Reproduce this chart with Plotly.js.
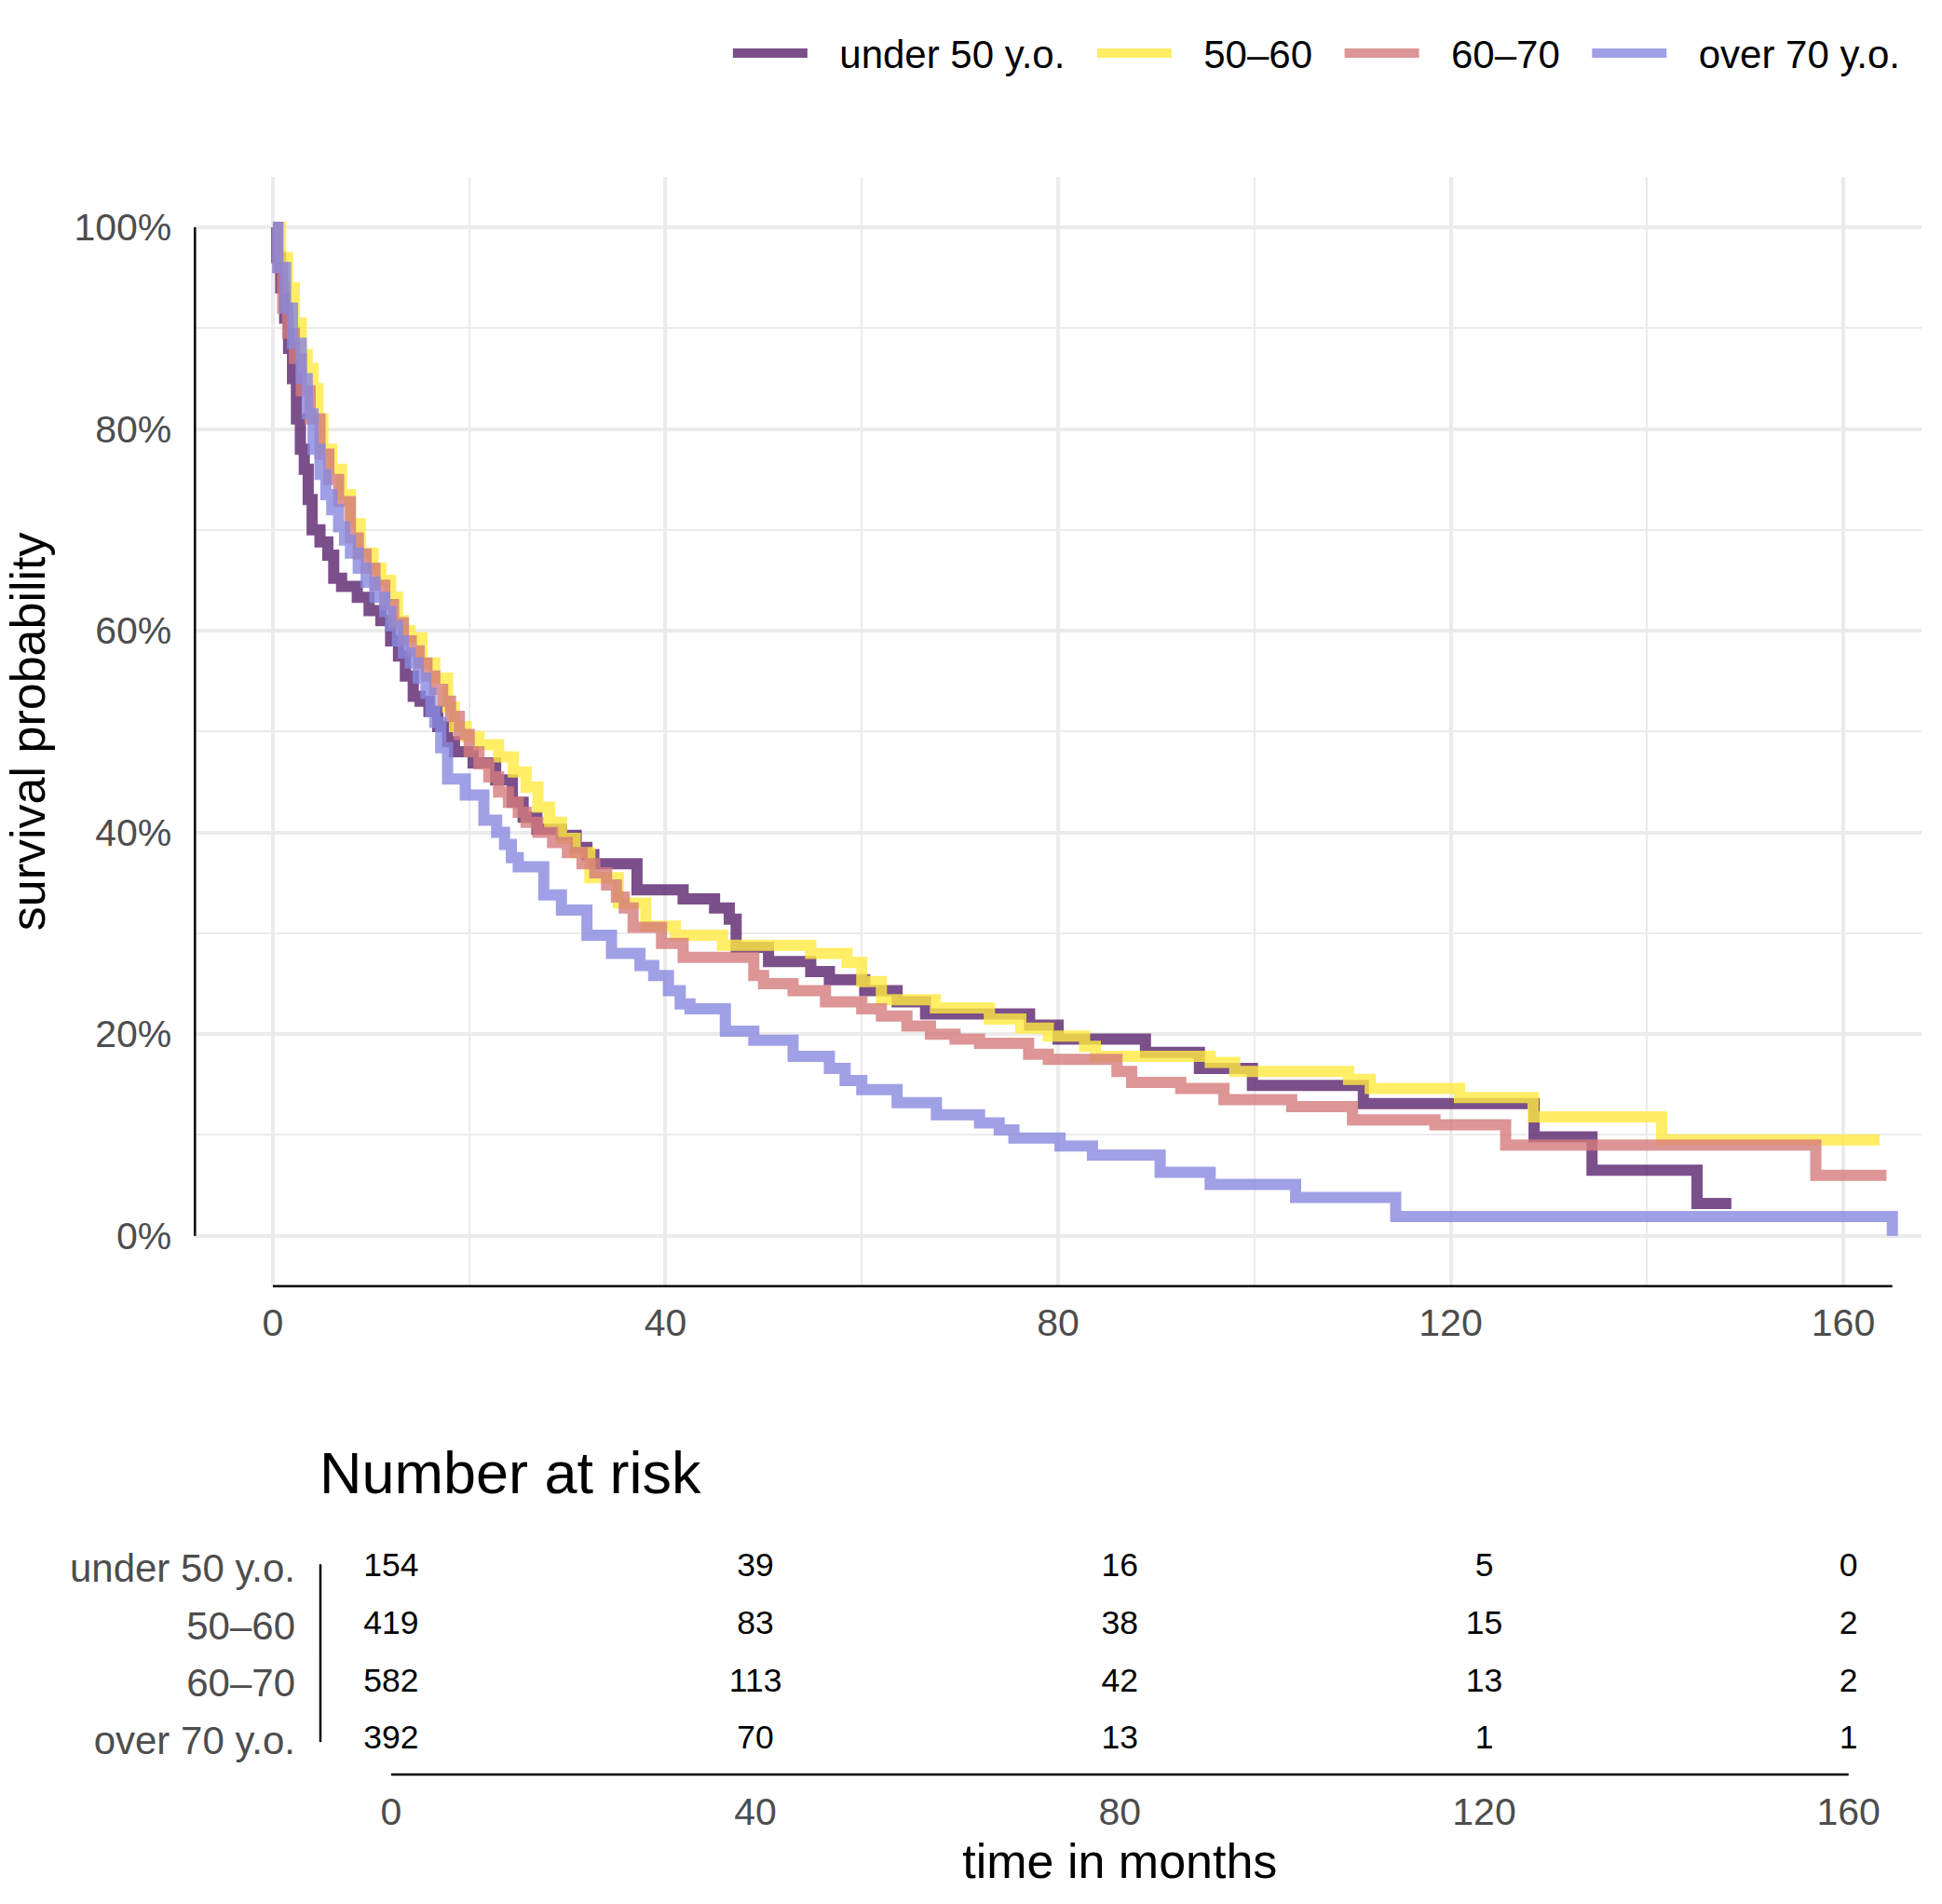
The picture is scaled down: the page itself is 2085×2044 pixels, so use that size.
<!DOCTYPE html>
<html>
<head>
<meta charset="utf-8">
<script src="https://cdn.plot.ly/plotly-3.0.1.min.js"></script>
<style>html,body{margin:0;padding:0;background:#fff;} #chart{width:2085px;height:2044px;}</style>
</head>
<body>
<div id="chart"></div>
<script>
// ---- data ----
const groupNames = ["under 50 y.o.", "50\u201360", "60\u201370", "over 70 y.o."];

const timeUnder50 = [0,0.4,0.8,1.2,1.6,2.0,2.4,2.8,3.2,3.6,4.0,4.8,5.6,6.2,7.0,8.6,9.8,11,12,12.8,13.5,14.3,15,15.9,16.8,17.8,18.5,20.4,22.7,24.4,25.5,26.9,29.4,30.9,32,32.7,37.1,41.8,45,46.5,47.2,50.5,54.8,56.7,60.3,63.6,66.5,77.1,80,88.9,94.4,99.8,111.1,128.5,134.4,145.1,148.6];
const survUnder50 = [1,0.97,0.94,0.91,0.88,0.85,0.81,0.78,0.76,0.73,0.70,0.688,0.675,0.652,0.644,0.633,0.62,0.61,0.59,0.575,0.555,0.535,0.53,0.52,0.505,0.49,0.48,0.469,0.452,0.43,0.415,0.403,0.397,0.385,0.378,0.369,0.343,0.334,0.325,0.314,0.286,0.272,0.262,0.254,0.243,0.232,0.22,0.209,0.195,0.182,0.166,0.149,0.131,0.098,0.065,0.032,0.032];

const time5060 = [0,0.8,1.5,2.2,2.9,3.5,4.1,4.6,5.1,6,7,7.9,8.9,10.2,11,12,12.7,13.3,14,15.2,16.5,17.8,18.5,19.7,21,23,24.5,25.8,27,28.2,29.4,30.8,32.3,35.2,38,41,45.8,54.8,58.5,60,62,67.5,73,76.2,79,82.7,83.8,95.5,98,109.6,111.8,120.9,128.4,141.5,163.7];
const surv5060 = [1,0.97,0.94,0.905,0.874,0.86,0.84,0.81,0.78,0.76,0.735,0.706,0.677,0.662,0.65,0.633,0.61,0.60,0.593,0.568,0.553,0.524,0.505,0.495,0.487,0.475,0.46,0.445,0.425,0.41,0.394,0.38,0.355,0.33,0.307,0.298,0.288,0.28,0.271,0.252,0.234,0.226,0.215,0.206,0.198,0.188,0.178,0.172,0.163,0.155,0.146,0.137,0.118,0.095,0.095];

const time6070 = [0,0.5,1,1.5,2.2,2.9,3.8,4.8,5.7,6.7,7.9,8.7,9.5,10.4,11.4,12.3,13.3,14.1,14.9,15.7,16.5,17.3,18.1,19,20,21,22,23,24,25,25.8,27,28.5,30,31.5,32.8,34,35,35.8,36.7,39.6,41.8,49,50,53,56.3,60,62,64.6,67,69.5,72,77,79,86,87.5,92.5,96.9,103.8,110,118.4,125.6,157.2,164.4];
const surv6070 = [1,0.96,0.92,0.895,0.87,0.838,0.81,0.775,0.75,0.728,0.692,0.676,0.662,0.645,0.626,0.608,0.59,0.58,0.568,0.555,0.542,0.53,0.515,0.497,0.48,0.468,0.455,0.44,0.43,0.42,0.41,0.40,0.39,0.38,0.369,0.36,0.348,0.336,0.325,0.306,0.29,0.276,0.258,0.25,0.243,0.232,0.225,0.218,0.208,0.2,0.195,0.191,0.18,0.175,0.163,0.152,0.146,0.135,0.128,0.115,0.11,0.09,0.06,0.06];

const timeOver70 = [0,0.5,1.3,2,2.9,3.5,4.1,4.8,5.4,6,6.7,7.3,7.9,8.7,9.5,10.4,11.4,12,12.7,13.3,14,14.8,15.6,16.1,16.5,17.1,17.8,19.6,21.5,22.8,23.6,24.3,25,27.6,29.4,32,34.5,37.4,38.8,40.3,41.5,42.5,46.1,49,53,56.7,58.3,60,63.6,67.6,72,74,75.5,80.2,83.5,90.4,95.5,104.2,114.4,165];
const survOver70 = [1,0.96,0.92,0.885,0.85,0.815,0.78,0.755,0.735,0.72,0.703,0.69,0.677,0.662,0.648,0.633,0.619,0.605,0.59,0.578,0.568,0.553,0.538,0.52,0.509,0.484,0.453,0.437,0.412,0.40,0.388,0.375,0.366,0.338,0.323,0.298,0.28,0.268,0.258,0.243,0.23,0.225,0.203,0.194,0.178,0.166,0.154,0.145,0.132,0.12,0.112,0.105,0.097,0.089,0.08,0.063,0.051,0.038,0.019,0];

const riskTimes = [0, 40, 80, 120, 160];
const riskUnder50 = [154, 39, 16, 5, 0];
const risk5060 = [419, 83, 38, 15, 2];
const risk6070 = [582, 113, 42, 13, 2];
const riskOver70 = [392, 70, 13, 1, 1];

const xTicks = [0, 40, 80, 120, 160];
const xMinorTicks = [20, 60, 100, 140];
const yTicks = [0, 0.2, 0.4, 0.6, 0.8, 1.0];
const yMinorTicks = [0.1, 0.3, 0.5, 0.7, 0.9];

// ---- styling ----
const colors = ["rgba(90,35,109,0.8)", "rgba(255,234,64,0.8)", "rgba(212,122,122,0.8)", "rgba(135,136,224,0.8)"];
const FONT = "Liberation Sans, Arial, Helvetica, sans-serif";
const GRID = "#EBEBEB";
const TXTGREY = "#4D4D4D";

const times = [timeUnder50, time5060, time6070, timeOver70];
const survs = [survUnder50, surv5060, surv6070, survOver70];
const risks = [riskUnder50, risk5060, risk6070, riskOver70];
const rowPos = [4, 3, 2, 1];

const traces = [];
for (let i = 0; i < 4; i++) {
  traces.push({
    type: "scatter", mode: "lines",
    name: "\u2002\u2009" + groupNames[i] + "\u2002\u200A",
    x: times[i], y: survs[i], line: {shape: "hv", width: 12, color: colors[i]},
    xaxis: "x", yaxis: "y", hoverinfo: "skip"
  });
}
for (let i = 0; i < 4; i++) {
  traces.push({
    type: "scatter", mode: "text", showlegend: false,
    x: riskTimes, y: riskTimes.map(() => rowPos[i]),
    text: risks[i].map(String), textposition: "middle center",
    textfont: {family: FONT, size: 35.5, color: "#000"},
    xaxis: "x2", yaxis: "y2", hoverinfo: "skip"
  });
}

const xMax = Math.max(...times.map(t => Math.max(...t)));

const layout = {
  width: 2085, height: 2044,
  margin: {l: 0, r: 0, t: 0, b: 0},
  paper_bgcolor: "#fff", plot_bgcolor: "#fff",
  font: {family: FONT, size: 41, color: TXTGREY},
  showlegend: true,
  legend: {
    orientation: "h", x: 0.375, xanchor: "left", y: 0.972, yanchor: "middle",
    font: {family: FONT, size: 42, color: "#000"}, itemwidth: 80,
    bgcolor: "rgba(0,0,0,0)", traceorder: "normal"
  },
  xaxis: {
    domain: [0.10038, 0.98945], range: [-7.94, 167.97], anchor: "y",
    tickvals: xTicks, ticks: "", showline: false, zeroline: false,
    showgrid: true, gridcolor: GRID, gridwidth: 4,
    minor: {tickvals: xMinorTicks, showgrid: true, gridcolor: GRID, gridwidth: 2, ticks: ""},
    tickfont: {family: FONT, size: 41, color: TXTGREY}, ticklabelstandoff: 11
  },
  yaxis: {
    domain: [0.32446, 0.90710], range: [-0.05, 1.05], anchor: "x",
    tickvals: yTicks, tickformat: ".0%", ticks: "", showline: false, zeroline: false,
    showgrid: true, gridcolor: GRID, gridwidth: 4,
    minor: {tickvals: yMinorTicks, showgrid: true, gridcolor: GRID, gridwidth: 2, ticks: ""},
    tickfont: {family: FONT, size: 41, color: TXTGREY}, ticklabelstandoff: 24,
    title: {text: "survival probability", font: {family: FONT, size: 52, color: "#000"}, standoff: 14}
  },
  xaxis2: {
    domain: [0.16499, 0.98830], range: [-7.76, 167.76], anchor: "y2",
    tickvals: xTicks, ticks: "", showline: false, zeroline: false, showgrid: false,
    tickfont: {family: FONT, size: 41, color: TXTGREY}, ticklabelstandoff: 12,
    title: {text: "time in months", font: {family: FONT, size: 52, color: "#000"}, standoff: 12}
  },
  yaxis2: {
    domain: [0.06800, 0.19442], range: [0.405, 4.595], anchor: "x2",
    tickvals: rowPos, ticktext: groupNames, ticks: "", showline: false, zeroline: false, showgrid: false,
    tickfont: {family: FONT, size: 42, color: TXTGREY}, ticklabelstandoff: 26
  },
  shapes: [
    {type: "line", xref: "x domain", yref: "y", x0: 0, x1: 0, y0: 0, y1: 1, line: {color: "#000", width: 2.5}},
    {type: "line", xref: "x", yref: "y domain", x0: 0, x1: xMax, y0: 0, y1: 0, line: {color: "#000", width: 2.5}},
    {type: "line", xref: "x2 domain", yref: "y2", x0: 0, x1: 0, y0: 0.97, y1: 4.065, line: {color: "#000", width: 2.5}},
    {type: "line", xref: "x2", yref: "y2 domain", x0: riskTimes[0], x1: riskTimes[riskTimes.length - 1], y0: 0, y1: 0, line: {color: "#000", width: 2.5}}
  ],
  annotations: [
    {text: "Number at risk", xref: "paper", yref: "paper", x: 0.16345, y: 0.22652,
     xanchor: "left", yanchor: "middle", showarrow: false,
     font: {family: FONT, size: 63, color: "#000"}}
  ]
};

Plotly.newPlot("chart", traces, layout, {staticPlot: true, displayModeBar: false});
</script>
</body>
</html>
